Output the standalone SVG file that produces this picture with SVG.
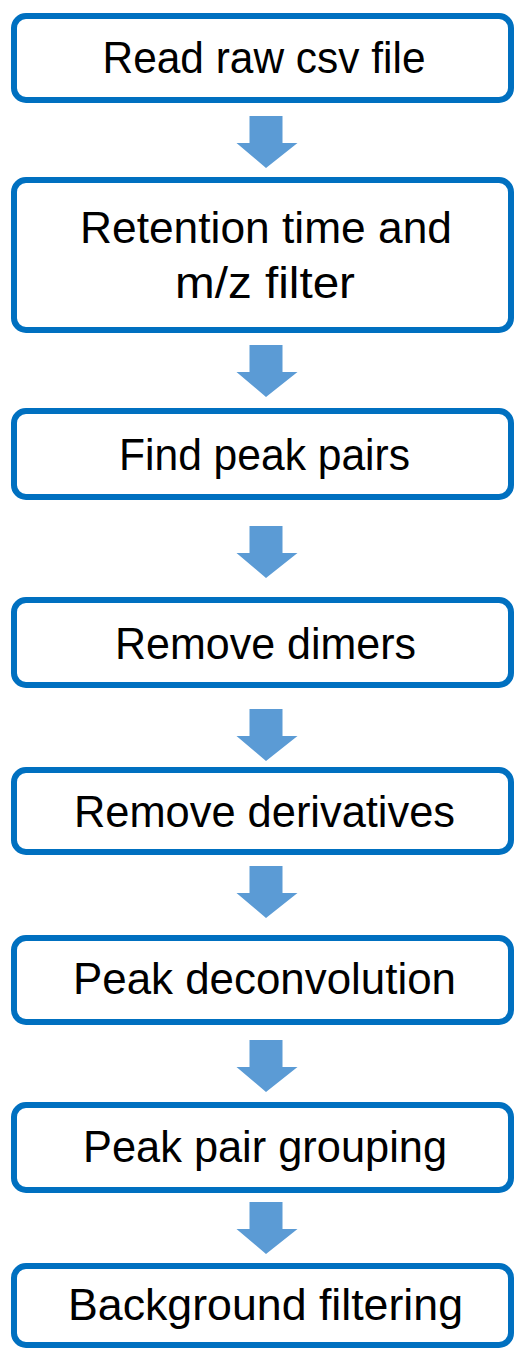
<svg xmlns="http://www.w3.org/2000/svg" width="514" height="1349" viewBox="0 0 514 1349">
  <style>
    .box { fill: #ffffff; stroke: #0070C0; stroke-width: 6; }
    .lbl { font-family: "Liberation Sans", Arial, sans-serif; font-size: 44px; fill: #000000; text-anchor: middle; }
    .arrow { fill: #5B9BD5; }
  </style>
  <defs>
    <!-- block arrow pointing down, tip at origin -->
    <path id="down" d="M-17.5,-52 H15.5 V-25 H30.5 L-1,0 L-30.5,-25 H-17.5 Z"/>
  </defs>
  <rect width="514" height="1349" fill="#ffffff"/>

  <g id="connectors" class="arrow">
    <use href="#down" x="267" y="168"/>
    <use href="#down" x="267" y="397"/>
    <use href="#down" x="267" y="578"/>
    <use href="#down" x="267" y="761"/>
    <use href="#down" x="267" y="918"/>
    <use href="#down" x="267" y="1092"/>
    <use href="#down" x="267" y="1254"/>
  </g>

  <g id="read-raw">
    <rect class="box" x="14" y="16" width="497" height="84" rx="12"/>
    <text class="lbl" x="264" y="73" textLength="323" lengthAdjust="spacingAndGlyphs">Read raw csv file</text>
  </g>
  <g id="rt-mz-filter">
    <rect class="box" x="14" y="180" width="497" height="150" rx="12"/>
    <text class="lbl" x="266" y="243" textLength="372" lengthAdjust="spacingAndGlyphs">Retention time and</text>
    <text class="lbl" x="265" y="298" textLength="180" lengthAdjust="spacingAndGlyphs">m/z filter</text>
  </g>
  <g id="find-pairs">
    <rect class="box" x="14" y="411" width="497" height="86" rx="12"/>
    <text class="lbl" x="264.5" y="470" textLength="291" lengthAdjust="spacingAndGlyphs">Find peak pairs</text>
  </g>
  <g id="remove-dimers">
    <rect class="box" x="14" y="600" width="497" height="85" rx="12"/>
    <text class="lbl" x="265.5" y="659" textLength="301" lengthAdjust="spacingAndGlyphs">Remove dimers</text>
  </g>
  <g id="remove-derivatives">
    <rect class="box" x="14" y="770" width="497" height="82" rx="12"/>
    <text class="lbl" x="264.5" y="827" textLength="381" lengthAdjust="spacingAndGlyphs">Remove derivatives</text>
  </g>
  <g id="deconvolution">
    <rect class="box" x="14" y="938" width="497" height="84" rx="12"/>
    <text class="lbl" x="264.5" y="994" textLength="383" lengthAdjust="spacingAndGlyphs">Peak deconvolution</text>
  </g>
  <g id="pair-grouping">
    <rect class="box" x="14" y="1105" width="497" height="85" rx="12"/>
    <text class="lbl" x="265" y="1162" textLength="364" lengthAdjust="spacingAndGlyphs">Peak pair grouping</text>
  </g>
  <g id="background-filter">
    <rect class="box" x="14" y="1266" width="497" height="79" rx="12"/>
    <text class="lbl" x="265.5" y="1320" textLength="395" lengthAdjust="spacingAndGlyphs">Background filtering</text>
  </g>
</svg>
